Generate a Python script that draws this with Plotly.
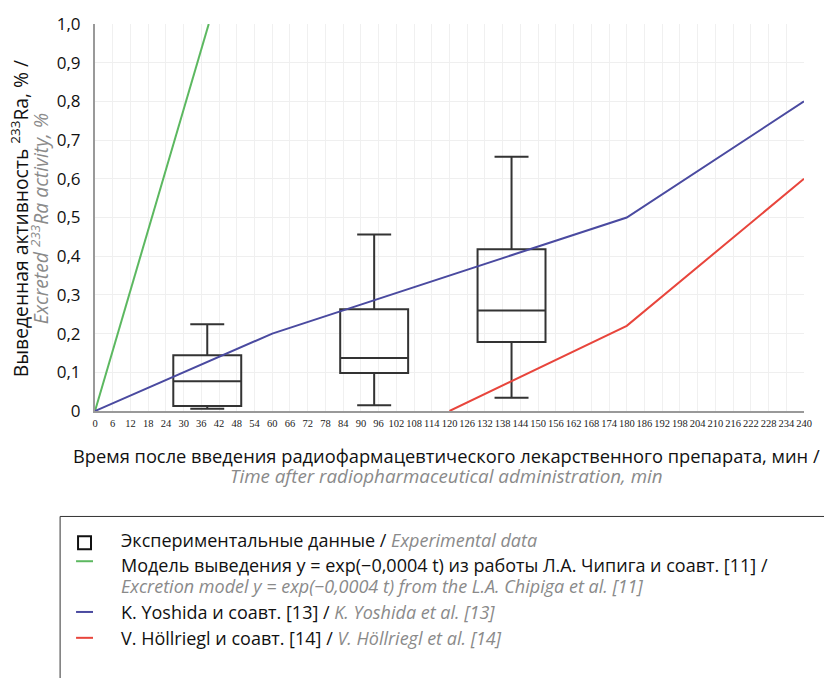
import plotly.graph_objects as go

# ---- data ----
# Experimental data (box summaries), time in minutes
box_time = [38, 94.5, 141]
box_lower = [0.006, 0.015, 0.034]
box_q1 = [0.013, 0.098, 0.178]
box_median = [0.077, 0.137, 0.260]
box_q3 = [0.144, 0.263, 0.418]
box_upper = [0.224, 0.456, 0.657]

# Excretion model (Chipiga et al.)
chipiga_t = [0, 38.5]
chipiga_a = [0.0, 1.0]

# K. Yoshida et al.
yoshida_t = [0, 60, 180, 240]
yoshida_a = [0.0, 0.20, 0.50, 0.80]

# V. Höllriegl et al.
hollriegl_t = [120, 180, 240]
hollriegl_a = [0.0, 0.22, 0.60]

x_ticks = list(range(0, 241, 6))
y_ticks = [round(i * 0.1, 1) for i in range(11)]
y_tick_text = ["0"] + [f"{v:.1f}".replace(".", ",") for v in y_ticks[1:]]

# ---- layout geometry (pixels) ----
W, H = 824, 678
L, R, T, B = 95, 18, 22, 267
PW, PH = W - L - R, H - T - B


def px(xp):
    return (xp - L) / PW


def py(yp):
    return (H - B - yp) / PH


FONT = "Open Sans"
GREY = "#8a8a8a"
GREEN = "#5cb860"
BLUE = "#4a4aa0"
RED = "#e8453c"
BOXC = "#333333"


def black(txt, size):
    return "<span style='font-size:%spx'>%s</span>" % (size, txt)


def grey(txt, size):
    return "<span style='color:%s;font-size:%spx'><i>%s</i></span>" % (GREY, size, txt)


fig = go.Figure()

fig.add_trace(go.Box(
    x=box_time, q1=box_q1, median=box_median, q3=box_q3,
    lowerfence=box_lower, upperfence=box_upper,
    width=23, whiskerwidth=0.5, boxpoints=False,
    line=dict(color=BOXC, width=2), fillcolor="rgba(255,255,255,0)",
    showlegend=False, hoverinfo="skip",
))

for t, a, c in [(chipiga_t, chipiga_a, GREEN), (yoshida_t, yoshida_a, BLUE),
                (hollriegl_t, hollriegl_a, RED)]:
    fig.add_trace(go.Scatter(x=t, y=a, mode="lines", line=dict(color=c, width=2),
                             showlegend=False, cliponaxis=False))

annotations = []
# x-axis title (two lines, line pitch set by the base font size)
annotations.append(dict(
    x=px(447), y=py(466), xref="paper", yref="paper", showarrow=False,
    xanchor="center", yanchor="middle", align="center",
    text=black("Время после введения радиофармацевтического лекарственного препарата, мин /", 18.3)
    + "<br>" + grey("Time after radiopharmaceutical administration, min", 18.8),
    font=dict(family=FONT, size=15.5, color="#111")))
# y-axis title
annotations.append(dict(
    x=px(30), y=py(218), xref="paper", yref="paper", showarrow=False,
    xanchor="center", yanchor="middle", align="center", textangle=-90,
    text=black("Выведенная активность <sup>233</sup>Ra, % /", 19.3)
    + "<br>" + grey("Excreted <sup>233</sup>Ra activity, %", 19.3),
    font=dict(family=FONT, size=15.5, color="#111")))

# legend block
legend_rows = [
    (541, black("Экспериментальные данные / ", 18) + grey("Experimental data", 18)),
    (576.5, black("Модель выведения y = exp(−0,0004 t) из работы Л.А. Чипига и соавт. [11] /", 18)
     + "<br>" + grey("Excretion model y = exp(−0,0004 t) from the L.A. Chipiga et al. [11]", 18)),
    (613, black("K. Yoshida и соавт. [13] / ", 18) + grey("K. Yoshida et al. [13]", 18)),
    (639, black("V. Höllriegl и соавт. [14] / ", 18) + grey("V. Höllriegl et al. [14]", 18)),
]
for yy, txt in legend_rows:
    annotations.append(dict(
        x=px(119), y=py(yy), xref="paper", yref="paper", showarrow=False,
        xanchor="left", yanchor="middle", align="left", text=txt,
        font=dict(family=FONT, size=16, color="#111")))

shapes = [
    # legend frame (top and left edges visible)
    dict(type="rect", xref="paper", yref="paper", x0=px(60), x1=px(900),
         y0=py(700), y1=py(517), line=dict(color="#333", width=1)),
    # experimental data icon
    dict(type="rect", xref="paper", yref="paper", x0=px(78), x1=px(91),
         y0=py(550), y1=py(537), line=dict(color="#111", width=2)),
]
for yy, c in [(562, GREEN), (613, BLUE), (639, RED)]:
    shapes.append(dict(type="line", xref="paper", yref="paper", x0=px(76), x1=px(93),
                       y0=py(yy), y1=py(yy), line=dict(color=c, width=2)))

fig.update_layout(
    width=W, height=H,
    margin=dict(l=L, r=R, t=T, b=B, pad=0),
    paper_bgcolor="white", plot_bgcolor="white",
    font=dict(family=FONT, color="#111"),
    annotations=annotations, shapes=shapes,
    showlegend=False,
)
fig.update_xaxes(
    range=[0, 240], tickmode="array", tickvals=x_ticks,
    ticktext=[str(v) for v in x_ticks], tickangle=0,
    tickfont=dict(family="Liberation Sans Narrow", size=10.5, color="#222"),
    showgrid=True, gridcolor="#f0f0f0", gridwidth=1,
    showline=True, linecolor="#999", linewidth=1.5,
    zeroline=False, ticks="", ticklabelstandoff=2,
)
fig.update_yaxes(
    range=[0, 1.0], tickmode="array", tickvals=y_ticks, ticktext=y_tick_text,
    tickfont=dict(family=FONT, size=17, color="#111"),
    showgrid=True, gridcolor="#efefef", gridwidth=1,
    showline=True, linecolor="#999", linewidth=2,
    zeroline=False, ticks="", ticklabelstandoff=9,
)

fig.write_html("out.html")
